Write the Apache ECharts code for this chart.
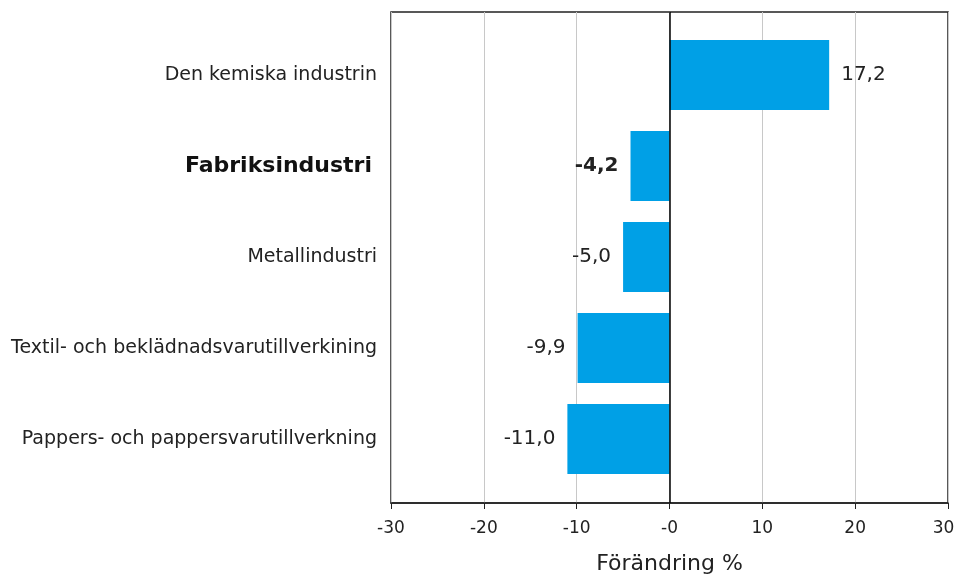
<!DOCTYPE html>
<html><head><meta charset="utf-8">
<script src="https://cdn.jsdelivr.net/npm/echarts@6/dist/echarts.min.js"></script>
<style>html,body{margin:0;padding:0;background:#fff}#c{width:957px;height:580px}</style>
</head><body><div id="c"></div>
<script>
const categories = ["Den kemiska industrin", "Fabriksindustri", "Metallindustri", "Textil- och beklädnadsvarutillverkining", "Pappers- och pappersvarutillverkning"];
const values = [17.2, -4.2, -5.0, -9.9, -11.0];
const boldCategory = "Fabriksindustri";
const xTicks = [-30, -20, -10, 0, 10, 20, 30];
const axisTitle = "Förändring %";

const FONT = "DejaVu Sans, sans-serif";
const chart = echarts.init(document.getElementById('c'));
const fmt = v => v.toFixed(1).replace('.', ',');
const xMin = xTicks[0], xMax = xTicks[xTicks.length - 1];
chart.setOption({
  animation: false,
  grid: [
    {left: 391, right: 9, top: 12, bottom: 77, show: true, borderColor: '#222', borderWidth: 1.5, backgroundColor: 'transparent', outerBoundsMode: 'none', containLabel: false},
    {left: 391, right: 9, top: 29.5, bottom: 95.5, outerBoundsMode: 'none', containLabel: false}
  ],
  xAxis: [{
    gridIndex: 0, type: 'value', min: xMin, max: xMax, interval: 10,
    name: axisTitle, nameLocation: 'middle', nameGap: 50,
    nameTextStyle: {fontFamily: FONT, fontSize: 22, color: '#222'},
    axisLine: {show: true, onZero: false, lineStyle: {color: '#222', width: 1.5}},
    axisTick: {show: true, length: 6, lineStyle: {color: '#222'}},
    axisLabel: {
      fontFamily: FONT, fontSize: 17, color: '#222', margin: 17,
      formatter: v => v === xMax ? '{m|' + v + '}' : (v === 0 ? "-0" : String(v)),
      rich: {m: {fontFamily: FONT, fontSize: 17, color: '#222', padding: [0, 9, 0, 0]}}
    },
    splitLine: {show: true, lineStyle: {color: '#c8c8c8', width: 1}}
  }, {
    gridIndex: 1, type: 'value', min: xMin, max: xMax, interval: 10, show: false
  }],
  yAxis: [{
    gridIndex: 0, type: 'value', min: 0, max: 1, show: false
  }, {
    gridIndex: 1, type: 'category', data: categories, inverse: true,
    axisLine: {show: false}, axisTick: {show: false},
    axisLabel: {
      margin: 14, fontFamily: FONT, fontSize: 19, color: '#222',
      formatter: v => v === boldCategory ? '{b|' + v + '}' : v,
      rich: {b: {fontFamily: FONT, fontSize: 22, fontWeight: 'bold', color: '#111', padding: [0, 5, 0, 0]}}
    }
  }],
  series: [{
    type: 'line', xAxisIndex: 0, yAxisIndex: 0, data: [], silent: true,
    markLine: {
      silent: true, symbol: 'none', label: {show: false},
      lineStyle: {color: '#000', width: 1.5, type: 'solid'},
      data: [{xAxis: 0}]
    }
  }, {
    type: 'bar', xAxisIndex: 1, yAxisIndex: 1, barCategoryGap: '23%',
    itemStyle: {color: '#00A0E6'},
    data: values.map((v, i) => ({
      value: v,
      label: {
        show: true,
        position: v >= 0 ? 'right' : 'left',
        distance: 12,
        fontFamily: FONT,
        fontSize: 20,
        fontWeight: categories[i] === boldCategory ? 'bold' : 'normal',
        color: '#222',
        formatter: p => fmt(p.value)
      }
    }))
  }]
});
</script></body></html>
